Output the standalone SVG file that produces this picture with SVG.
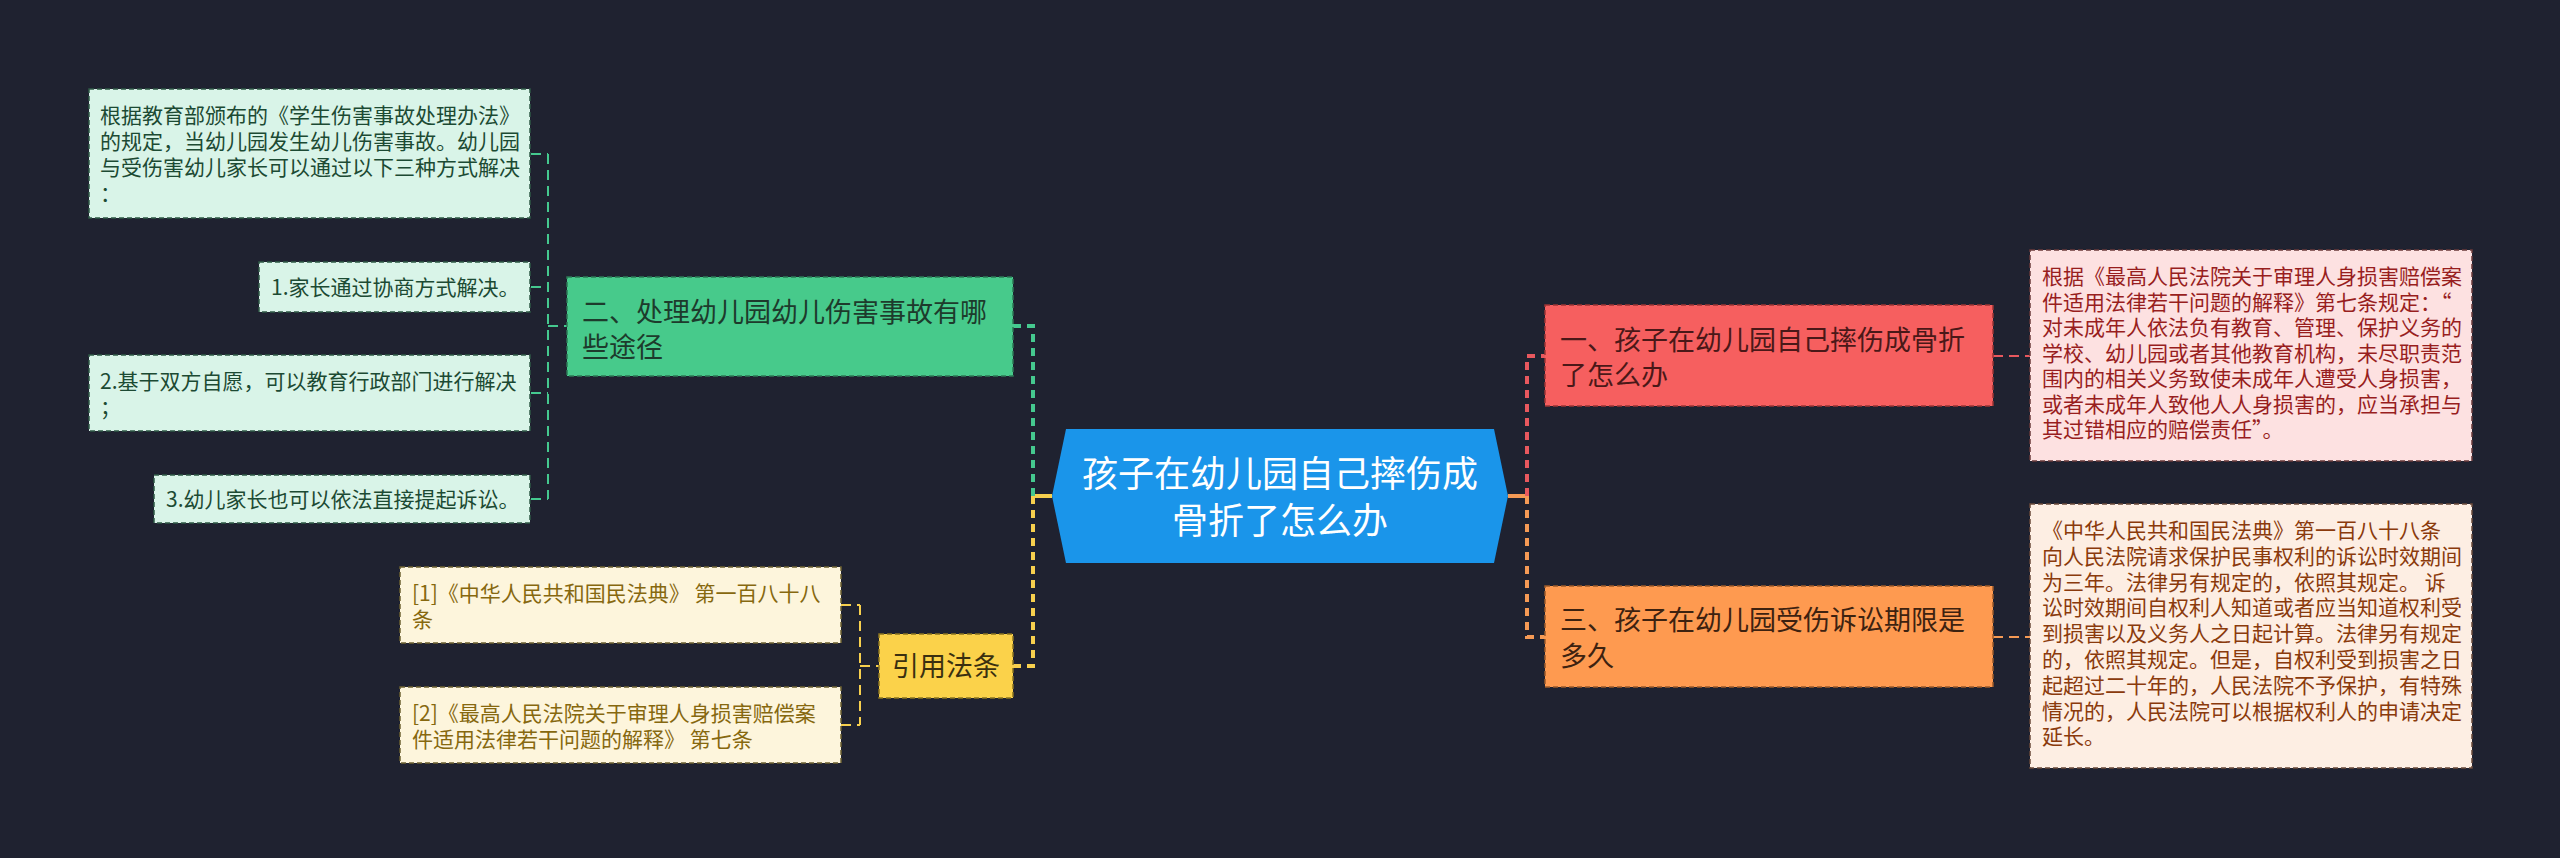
<svg xmlns="http://www.w3.org/2000/svg" width="2560" height="858" viewBox="0 0 2560 858">
<style>
text{font-family:"Noto Sans CJK SC","Noto Sans",sans-serif;}
.leaf{font-size:21px;}
.main{font-size:27px;}
.root{font-size:36px;fill:#ffffff;}
.gl rect{fill:#d9f4e8;stroke:#2f5a45;stroke-width:1.5;stroke-dasharray:5 3;}
.gl text{fill:#1c4a33;}
.yl rect{fill:#fdf5dc;stroke:#6e6230;stroke-width:1.5;stroke-dasharray:5 3;}
.yl text{fill:#86680f;}
.pk rect{fill:#fde1e1;stroke:#6a3a3a;stroke-width:1.5;stroke-dasharray:5 3;}
.pk text{fill:#981e1e;}
.pc rect{fill:#fdeee3;stroke:#6a4a3a;stroke-width:1.5;stroke-dasharray:5 3;}
.pc text{fill:#8a3a0c;}
.c{fill:none;stroke-linecap:butt;}
.thin{stroke-width:2;stroke-dasharray:10 6;}
.thick{stroke-width:4;stroke-dasharray:8 6;}
</style>
<rect x="0" y="0" width="2560" height="858" fill="#1f2230"/>

<g id="connectors">
  <!-- center to branches -->
  <line class="c" x1="1033" y1="496" x2="1052" y2="496" stroke="#f7d04e" stroke-width="4"/>
  <path class="c thick" d="M1033,496 V326 H1013" stroke="#45c98f"/>
  <path class="c thick" d="M1033,496 V666 H1013" stroke="#f7d04e"/>
  <line class="c" x1="1508" y1="496" x2="1527" y2="496" stroke="#f59a55" stroke-width="4"/>
  <path class="c thick" d="M1527,496 V356 H1545" stroke="#e8585e"/>
  <path class="c thick" d="M1527,496 V637 H1545" stroke="#f59a55"/>
  <!-- green branch leaves -->
  <path class="c thin" d="M548,154 V499" stroke="#45c98f"/>
  <path class="c thin" d="M531,154 H548 M531,287 H548 M531,393 H548 M531,499 H548 M548,326 H567" stroke="#45c98f"/>
  <!-- yellow branch leaves -->
  <path class="c thin" d="M860,605 V725" stroke="#f7d04e"/>
  <path class="c thin" d="M841,605 H860 M841,725 H860 M860,666 H879" stroke="#f7d04e"/>
  <!-- right leaves -->
  <path class="c thin" d="M1993,356 H2030" stroke="#e8585e"/>
  <path class="c thin" d="M1993,637 H2030" stroke="#f59a55"/>
</g>

<g id="root">
  <polygon points="1052,496 1066,429 1494,429 1508,496 1494,563 1066,563" fill="#1a95ea"/>
  <text class="root" x="1280" y="487" text-anchor="middle">孩子在幼儿园自己摔伤成</text>
  <text class="root" x="1280" y="534" text-anchor="middle">骨折了怎么办</text>
</g>

<g id="branch-2">
  <rect x="567" y="277" width="446" height="99" fill="#47ca8b" stroke="#2c7a55" stroke-width="1.5" stroke-dasharray="5 3"/>
  <text class="main" x="582" y="322" fill="#1d3b2c">二、处理幼儿园幼儿伤害事故有哪</text>
  <text class="main" x="582" y="357" fill="#1d3b2c">些途径</text>
</g>

<g id="leaf-2-0" class="gl">
  <rect x="89" y="89" width="441" height="129"/>
  <text class="leaf" x="100" y="123">根据教育部颁布的《学生伤害事故处理办法》</text>
  <text class="leaf" x="100" y="149">的规定，当幼儿园发生幼儿伤害事故。幼儿园</text>
  <text class="leaf" x="100" y="175">与受伤害幼儿家长可以通过以下三种方式解决</text>
  <text class="leaf" x="100" y="201">：</text>
</g>

<g id="leaf-2-1" class="gl">
  <rect x="259" y="262" width="271" height="50"/>
  <text class="leaf" x="271" y="295">1.家长通过协商方式解决。</text>
</g>

<g id="leaf-2-2" class="gl">
  <rect x="89" y="355" width="441" height="76"/>
  <text class="leaf" x="100" y="389">2.基于双方自愿，可以教育行政部门进行解决</text>
  <text class="leaf" x="100" y="415">；</text>
</g>

<g id="leaf-2-3" class="gl">
  <rect x="154" y="475" width="376" height="48"/>
  <text class="leaf" x="166" y="507">3.幼儿家长也可以依法直接提起诉讼。</text>
</g>

<g id="branch-law">
  <rect x="879" y="634" width="134" height="64" fill="#fbd24a" stroke="#8a7420" stroke-width="1.5" stroke-dasharray="5 3"/>
  <text class="main" x="946" y="676" text-anchor="middle" fill="#3a3010">引用法条</text>
</g>

<g id="law-1" class="yl">
  <rect x="400" y="567" width="441" height="76"/>
  <text class="leaf" x="412" y="601">[1]《中华人民共和国民法典》 第一百八十八</text>
  <text class="leaf" x="412" y="627">条</text>
</g>

<g id="law-2" class="yl">
  <rect x="400" y="687" width="441" height="76"/>
  <text class="leaf" x="412" y="721">[2]《最高人民法院关于审理人身损害赔偿案</text>
  <text class="leaf" x="412" y="747">件适用法律若干问题的解释》 第七条</text>
</g>

<g id="branch-1">
  <rect x="1545" y="305" width="448" height="101" fill="#f65f5f" stroke="#9a3434" stroke-width="1.5" stroke-dasharray="5 3"/>
  <text class="main" x="1560" y="350" fill="#4a1818">一、孩子在幼儿园自己摔伤成骨折</text>
  <text class="main" x="1560" y="385" fill="#4a1818">了怎么办</text>
</g>

<g id="leaf-1-0" class="pk">
  <rect x="2030" y="250" width="442" height="211"/>
  <text class="leaf" x="2042" y="284">根据《最高人民法院关于审理人身损害赔偿案</text>
  <text class="leaf" x="2042" y="309.5">件适用法律若干问题的解释》第七条规定：“</text>
  <text class="leaf" x="2042" y="335">对未成年人依法负有教育、管理、保护义务的</text>
  <text class="leaf" x="2042" y="360.5">学校、幼儿园或者其他教育机构，未尽职责范</text>
  <text class="leaf" x="2042" y="386">围内的相关义务致使未成年人遭受人身损害，</text>
  <text class="leaf" x="2042" y="411.5">或者未成年人致他人人身损害的，应当承担与</text>
  <text class="leaf" x="2042" y="437">其过错相应的赔偿责任”。</text>
</g>

<g id="branch-3">
  <rect x="1545" y="586" width="448" height="101" fill="#fe9a50" stroke="#9a5a2a" stroke-width="1.5" stroke-dasharray="5 3"/>
  <text class="main" x="1560" y="630" fill="#3d2210">三、孩子在幼儿园受伤诉讼期限是</text>
  <text class="main" x="1560" y="666" fill="#3d2210">多久</text>
</g>

<g id="leaf-3-0" class="pc">
  <rect x="2030" y="504" width="442" height="264"/>
  <text class="leaf" x="2042" y="538">《中华人民共和国民法典》第一百八十八条</text>
  <text class="leaf" x="2042" y="563.8">向人民法院请求保护民事权利的诉讼时效期间</text>
  <text class="leaf" x="2042" y="589.6">为三年。法律另有规定的，依照其规定。 诉</text>
  <text class="leaf" x="2042" y="615.4">讼时效期间自权利人知道或者应当知道权利受</text>
  <text class="leaf" x="2042" y="641.2">到损害以及义务人之日起计算。法律另有规定</text>
  <text class="leaf" x="2042" y="667">的，依照其规定。但是，自权利受到损害之日</text>
  <text class="leaf" x="2042" y="692.8">起超过二十年的，人民法院不予保护，有特殊</text>
  <text class="leaf" x="2042" y="718.6">情况的，人民法院可以根据权利人的申请决定</text>
  <text class="leaf" x="2042" y="744.4">延长。</text>
</g>
</svg>
